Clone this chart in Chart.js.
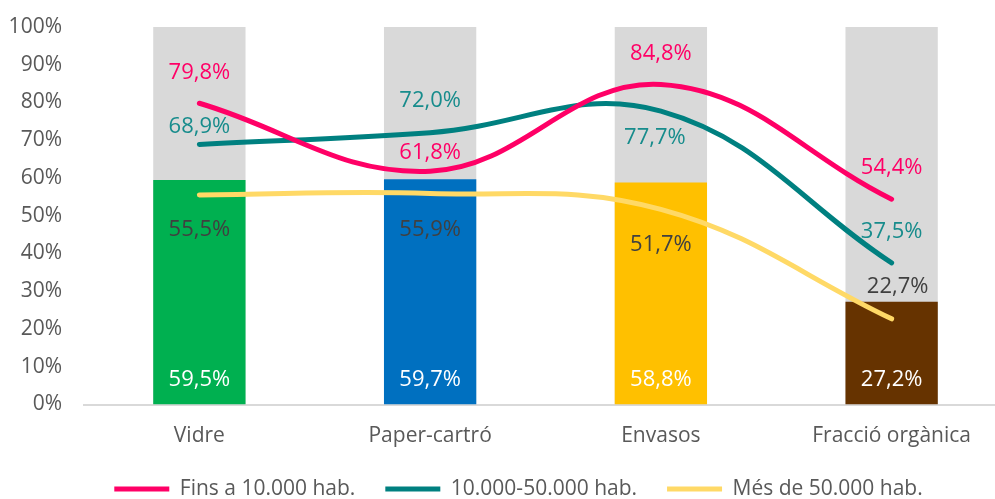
<!DOCTYPE html>
<html>
<head>
<meta charset="utf-8">
<script src="https://cdn.jsdelivr.net/npm/chart.js@4.4.0/dist/chart.umd.min.js"></script>
<style>
    html, body { margin: 0; padding: 0; background: #fff; overflow: hidden; }
    #wrap { width: 1010px; height: 499px; position: relative; }
</style>
</head>
<body>
<div id="wrap"><canvas id="chart"></canvas></div>
<script>
// Data
const categories = ['Vidre', 'Paper-cartró', 'Envasos', 'Fracció orgànica'];
const barValues = [59.5, 59.7, 58.8, 27.2];
const fullBar = [100, 100, 100, 100];
const smallTowns = [79.8, 61.8, 84.8, 54.4];   // Fins a 10.000 hab.
const midTowns = [68.9, 72.0, 77.7, 37.5];     // 10.000-50.000 hab.
const bigTowns = [55.5, 55.9, 51.7, 22.7];     // Més de 50.000 hab.

// Styles
const FONT = "'Open Sans', sans-serif";
const TEXT_GREY = '#595959';
const barColors = ['#00B050', '#0070C0', '#FFC000', '#663300'];

function fmt(v) {
    return v.toFixed(1).replace('.', ',') + '%';
}

// draws the value labels next to each point / inside each bar
const valueLabels = {
    id: 'valueLabels',
    afterDatasetsDraw(chart) {
        const ctx = chart.ctx;
        ctx.save();
        ctx.font = '22px ' + FONT;
        ctx.textAlign = 'center';
        ctx.textBaseline = 'middle';
        chart.data.datasets.forEach(function(ds, i) {
            if (!ds.labelColor) return;
            const meta = chart.getDatasetMeta(i);
            meta.data.forEach(function(el, j) {
                let x = el.x + (ds.labelDx ? ds.labelDx[j] : 0);
                let y = ds.type === 'bar' ? el.base - 25 : el.y + ds.labelDy[j];
                ctx.fillStyle = ds.labelColor;
                ctx.fillText(fmt(ds.data[j]), x, y);
            });
        });
        ctx.restore();
    }
};

// nudge the legend a bit to the right, like the original
const legendShift = {
    id: 'legendShift',
    afterLayout(chart) {
        if (chart.legend) chart.legend.left += 30;
    }
};

const lineBase = {
    type: 'line',
    borderWidth: 5,
    borderCapStyle: 'round',
    borderJoinStyle: 'round',
    tension: 0.4,
    pointRadius: 0,
    pointHoverRadius: 0,
    fill: false
};

new Chart(document.getElementById('chart'), {
    data: {
        labels: categories,
        datasets: [
            Object.assign({}, lineBase, {
                label: 'Fins a 10.000 hab.',
                data: smallTowns,
                borderColor: '#FF0066',
                backgroundColor: '#FF0066',
                order: 0,
                labelColor: '#FF0066',
                labelDy: [-31, -18, -31, -31]
            }),
            Object.assign({}, lineBase, {
                label: '10.000-50.000 hab.',
                data: midTowns,
                borderColor: '#008080',
                backgroundColor: '#008080',
                order: 1,
                labelColor: '#178C8C',
                labelDy: [-18, -32, 27, -31],
                labelDx: [0, 0, -6, 0]
            }),
            Object.assign({}, lineBase, {
                label: 'Més de 50.000 hab.',
                data: bigTowns,
                borderColor: '#FFD966',
                backgroundColor: '#FFD966',
                order: 2,
                labelColor: '#404040',
                labelDy: [35, 36, 35, -32],
                labelDx: [0, 0, 0, 6]
            }),
            {
                type: 'bar',
                label: 'total',
                data: barValues,
                backgroundColor: barColors,
                grouped: false,
                barPercentage: 0.4,
                categoryPercentage: 1,
                order: 3,
                labelColor: '#FFFFFF'
            },
            {
                type: 'bar',
                label: 'fons',
                data: fullBar,
                backgroundColor: '#D9D9D9',
                grouped: false,
                barPercentage: 0.4,
                categoryPercentage: 1,
                order: 4
            }
        ]
    },
    options: {
        responsive: true,
        maintainAspectRatio: false,
        animation: false,
        layout: {
            padding: { left: 0, right: 3, top: 27, bottom: -10.5 }
        },
        scales: {
            x: {
                grid: { display: false, drawTicks: false },
                border: { display: true, color: '#D9D9D9', width: 2 },
                ticks: {
                    color: TEXT_GREY,
                    font: { family: FONT, size: 21 },
                    padding: 19,
                    maxRotation: 0
                },
                afterFit: function(scale) { scale.height = 44; }
            },
            y: {
                min: 0,
                max: 100,
                grid: { display: false, drawTicks: false },
                border: { display: false },
                ticks: {
                    stepSize: 10,
                    color: TEXT_GREY,
                    font: { family: FONT, size: 21 },
                    padding: 22,
                    callback: function(v) { return v + '%'; }
                },
                afterFit: function(scale) {
                    scale.width = 84;
                    scale.paddingTop = 0;
                    scale.paddingBottom = 0;
                }
            }
        },
        plugins: {
            legend: {
                position: 'bottom',
                labels: {
                    filter: function(item) { return item.datasetIndex < 3; },
                    usePointStyle: true,
                    pointStyle: 'line',
                    pointStyleWidth: 55,
                    color: TEXT_GREY,
                    font: { family: FONT, size: 21 },
                    padding: 30
                }
            },
            tooltip: { enabled: false }
        }
    },
    plugins: [valueLabels, legendShift]
});
</script>
</body>
</html>
